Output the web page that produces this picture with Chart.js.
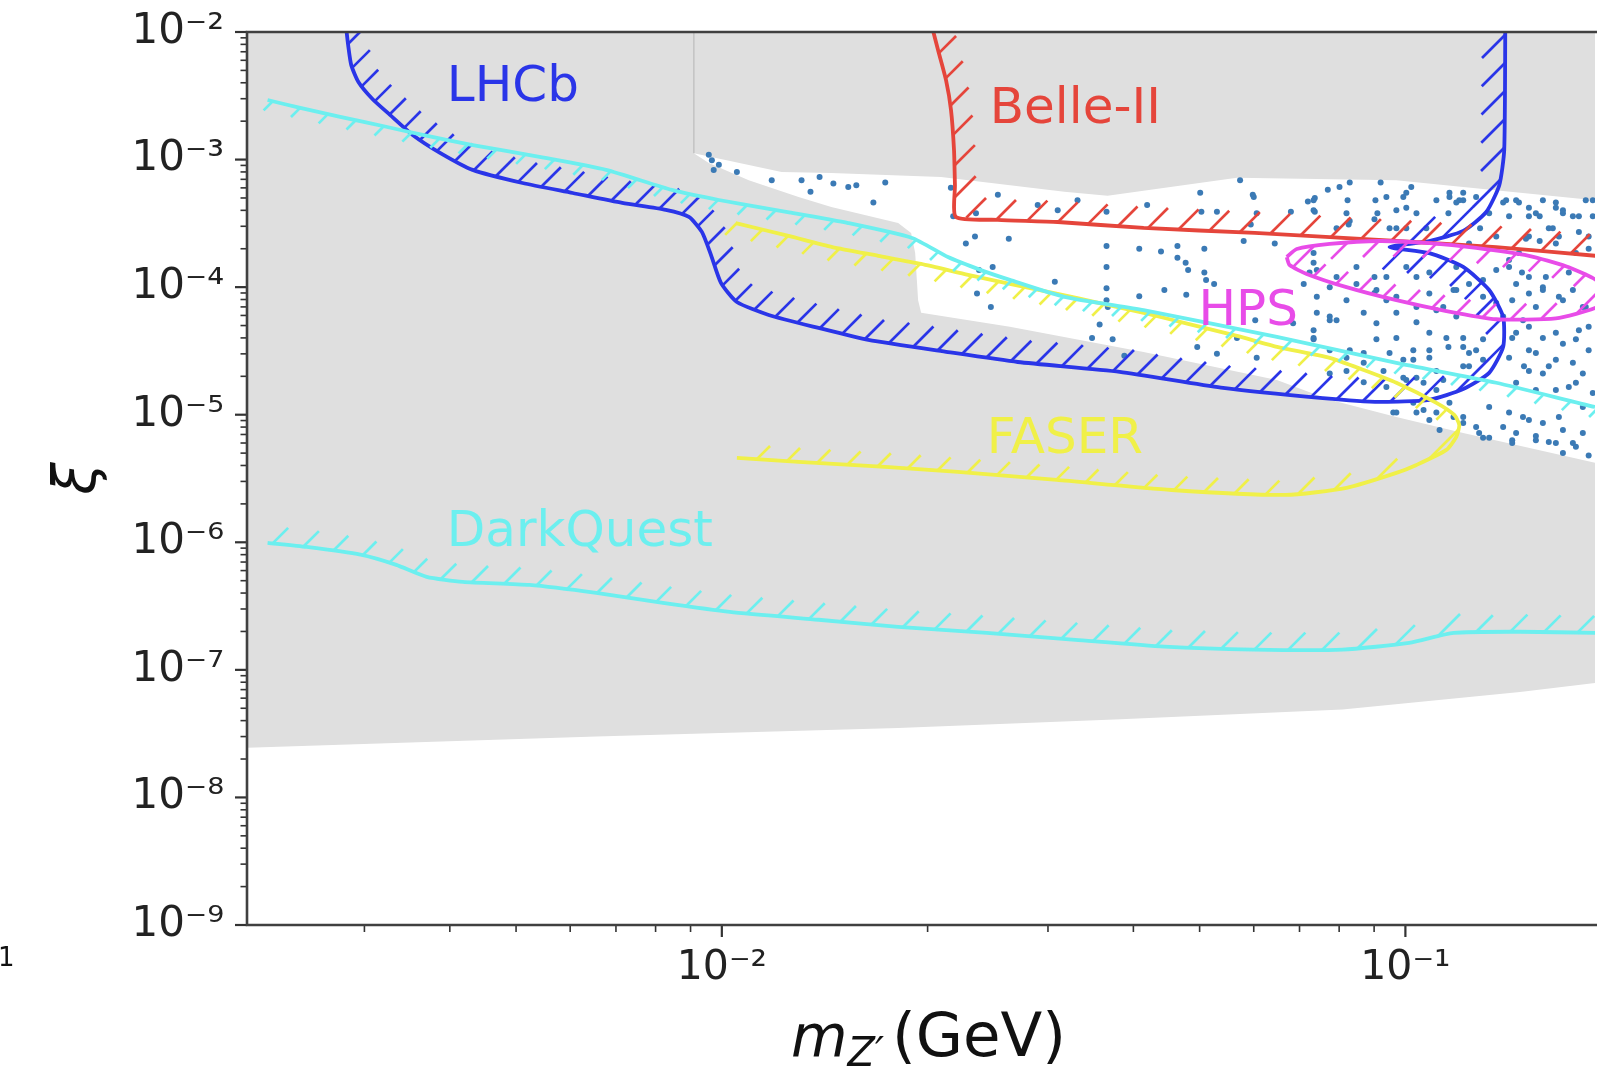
<!DOCTYPE html>
<html lang="en">
<head>
<meta charset="UTF-8">
<title>Z' reach</title>
<script src="https://cdn.jsdelivr.net/npm/chart.js"></script>
<style>
  html, body { margin: 0; padding: 0; background: #fff; }
  canvas { display: block; }
</style>
</head>
<body>
<canvas id="reach" width="1599" height="1070"></canvas>
<script>
// axis ranges (GeV, coupling)
const X_MIN = 0.00202, X_MAX = 0.1894;
const Y_MIN = 1e-9, Y_MAX = 1e-2;

const xMajorTicks = [1e-2, 1e-1];
const xMinorTicks = [3e-3, 4e-3, 5e-3, 6e-3, 7e-3, 8e-3, 9e-3, 2e-2, 3e-2, 4e-2, 5e-2, 6e-2, 7e-2, 8e-2, 9e-2];
const yMajorTicks = [1e-9, 1e-8, 1e-7, 1e-6, 1e-5, 1e-4, 1e-3, 1e-2];
const minorSteps = [2, 3, 4, 5, 6, 7, 8, 9];

// excluded region below the allowed band
const grayLowX = [1.9e-3, 9.10e-3, 9.10e-3, 9.57e-3, 1.095e-2, 1.295e-2, 1.446e-2, 1.811e-2, 1.892e-2, 1.918e-2, 1.937e-2, 1.957e-2, 2.638e-2, 4.14e-2, 6.486e-2, 7.75e-2, 9.70e-2, 0.1215, 0.1894, 0.2247, 0.2247, 0.1894, 0.1471, 8.09e-2, 3.83e-2, 1.811e-2, 6.55e-3, 2.023e-3, 1.9e-3];
const grayLowY = [1.2e-2, 1.2e-2, 1.12e-3, 9.4e-4, 6.9e-4, 5.1e-4, 4.25e-4, 3.18e-4, 2.66e-4, 1.85e-4, 7.9e-5, 6.3e-5, 4.9e-5, 3.1e-5, 1.87e-5, 1.31e-5, 9.6e-6, 7.2e-6, 4.2e-6, 3.4e-6, 9.0e-8, 7.9e-8, 6.7e-8, 4.9e-8, 4.1e-8, 3.5e-8, 3.0e-8, 2.45e-8, 2.4e-8];
// excluded region above the allowed band
const grayUpX = [9.10e-3, 0.2247, 0.2247, 0.190, 0.1215, 9.70e-2, 5.67e-2, 3.666e-2, 3.17e-2, 2.393e-2, 2.093e-2, 1.446e-2, 1.223e-2, 9.10e-3];
const grayUpY = [1.2e-2, 1.2e-2, 4.5e-4, 4.8e-4, 6.1e-4, 6.9e-4, 7.2e-4, 5.2e-4, 5.6e-4, 6.7e-4, 7.3e-4, 7.85e-4, 8.0e-4, 1.12e-3];
const edgeX = [9.10e-3, 9.10e-3];
const edgeY = [1e-2, 1.12e-3];

// projected sensitivity contours
const lhcbX = [2.82e-3, 2.84e-3, 2.87e-3, 2.94e-3, 3.08e-3, 3.27e-3, 3.53e-3, 3.87e-3, 4.32e-3, 5.11e-3, 6.05e-3, 7.15e-3, 8.28e-3, 8.95e-3, 9.35e-3, 9.64e-3, 9.97e-3, 1.052e-2, 1.171e-2, 1.385e-2, 1.638e-2, 2.142e-2, 2.71e-2, 3.82e-2, 5.37e-2, 7.57e-2, 9.17e-2, 0.1084, 0.1215, 0.1326, 0.139, 0.139, 0.1326, 0.1215, 0.1084, 0.0948, 0.1084, 0.1215, 0.1313, 0.1372, 0.1395, 0.140];
const lhcbY = [1.1e-2, 7.9e-3, 5.5e-3, 4.06e-3, 3.0e-3, 2.24e-3, 1.56e-3, 1.13e-3, 8.3e-4, 6.55e-4, 5.47e-4, 4.57e-4, 4.03e-4, 3.55e-4, 2.71e-4, 1.79e-4, 1.08e-4, 7.65e-5, 6.05e-5, 4.79e-5, 3.86e-5, 3.10e-5, 2.59e-5, 2.17e-5, 1.63e-5, 1.35e-5, 1.26e-5, 1.31e-5, 1.59e-5, 2.13e-5, 3.40e-5, 5.84e-5, 9.5e-5, 1.44e-4, 1.85e-4, 2.06e-4, 2.30e-4, 2.76e-4, 3.88e-4, 6.3e-4, 1.19e-3, 1.1e-2];

const belleX = [2.03e-2, 2.072e-2, 2.128e-2, 2.164e-2, 2.186e-2, 2.193e-2, 2.20e-2, 2.534e-2, 3.10e-2, 4.14e-2, 6.02e-2, 9.70e-2, 0.1358, 0.190, 0.225];
const belleY = [1.1e-2, 7.2e-3, 4.2e-3, 2.45e-3, 1.19e-3, 6.3e-4, 3.55e-4, 3.37e-4, 3.24e-4, 2.91e-4, 2.66e-4, 2.30e-4, 2.06e-4, 1.76e-4, 1.65e-4];

const hpsX = [6.706e-2, 6.935e-2, 7.75e-2, 9.17e-2, 0.1084, 0.1269, 0.1516, 0.1717, 0.190, 0.200, 0.190, 0.166, 0.1358, 0.1148, 9.70e-2, 8.20e-2, 7.17e-2, 6.77e-2, 6.706e-2];
const hpsY = [1.72e-4, 1.99e-4, 2.18e-4, 2.30e-4, 2.21e-4, 2.03e-4, 1.76e-4, 1.46e-4, 1.14e-4, 8.7e-5, 6.9e-5, 5.7e-5, 5.6e-5, 6.5e-5, 7.9e-5, 1.0e-4, 1.27e-4, 1.49e-4, 1.72e-4];

const faserX = [1.048e-2, 1.252e-2, 1.451e-2, 1.694e-2, 1.957e-2, 2.292e-2, 2.638e-2, 3.099e-2, 3.57e-2, 4.19e-2, 4.81e-2, 5.67e-2, 6.49e-2, 7.75e-2, 8.69e-2, 9.70e-2, 0.111, 0.1179, 0.1199, 0.1187, 0.1148, 0.1038, 9.70e-2, 8.20e-2, 6.68e-2, 4.55e-2, 3.09e-2, 2.215e-2, 1.734e-2, 1.295e-2, 1.052e-2];
const faserY = [3.18e-4, 2.52e-4, 2.06e-4, 1.76e-4, 1.52e-4, 1.25e-4, 1.06e-4, 8.85e-5, 7.5e-5, 6.2e-5, 5.15e-5, 4.15e-5, 3.40e-5, 2.79e-5, 2.24e-5, 1.78e-5, 1.24e-5, 9.96e-6, 8.3e-6, 6.7e-6, 5.3e-6, 4.04e-6, 3.50e-6, 2.67e-6, 2.35e-6, 2.57e-6, 3.08e-6, 3.56e-6, 3.90e-6, 4.27e-6, 4.59e-6];

const dqUpX = [2.165e-3, 2.417e-3, 2.765e-3, 3.24e-3, 3.65e-3, 4.32e-3, 5.41e-3, 6.77e-3, 8.45e-3, 9.90e-3, 1.248e-2, 1.531e-2, 1.898e-2, 2.142e-2, 2.393e-2, 2.638e-2, 3.17e-2, 4.14e-2, 6.486e-2, 9.70e-2, 0.1358, 0.1894, 0.2247];
const dqUpY = [2.93e-3, 2.54e-3, 2.16e-3, 1.80e-3, 1.56e-3, 1.30e-3, 1.05e-3, 8.3e-4, 5.78e-4, 4.82e-4, 3.88e-4, 3.18e-4, 2.43e-4, 1.72e-4, 1.36e-4, 1.14e-4, 8.4e-5, 6.6e-5, 4.07e-5, 2.55e-5, 1.78e-5, 1.15e-5, 9.4e-6];

const dqLowX = [2.165e-3, 2.47e-3, 2.96e-3, 3.34e-3, 3.70e-3, 4.18e-3, 5.23e-3, 6.55e-3, 8.20e-3, 1.027e-2, 1.385e-2, 1.811e-2, 2.442e-2, 3.29e-2, 4.44e-2, 6.0e-2, 8.09e-2, 0.1013, 0.1176, 0.1471, 0.1894, 0.2247];
const dqLowY = [9.9e-7, 9.2e-7, 8.0e-7, 6.65e-7, 5.36e-7, 4.90e-7, 4.63e-7, 4.01e-7, 3.35e-7, 2.85e-7, 2.47e-7, 2.17e-7, 1.95e-7, 1.72e-7, 1.52e-7, 1.44e-7, 1.44e-7, 1.63e-7, 1.95e-7, 1.99e-7, 1.95e-7, 1.95e-7];

// scanned model points
const dotX = [
  9.57e-3, 9.67e-3, 9.90e-3, 9.73e-3, 1.052e-2, 1.183e-2, 1.308e-2, 1.348e-2, 1.39e-2, 1.456e-2,
  1.531e-2, 1.573e-2, 1.734e-2, 1.666e-2, 2.163e-2, 2.18e-2, 2.354e-2, 2.275e-2, 2.346e-2, 2.629e-2,
  3.10e-2, 3.654e-2, 3.654e-2, 3.654e-2, 3.654e-2, 3.654e-2, 3.57e-2, 3.48e-2, 3.73e-2, 3.07e-2,
  2.378e-2, 2.49e-2, 2.362e-2, 2.475e-2, 4.08e-2, 4.08e-2, 4.39e-2, 4.64e-2, 4.81e-2, 5.11e-2,
  4.44e-2, 4.78e-2, 4.96e-2, 5.30e-2, 6.03e-2, 5.03e-2, 5.30e-2, 5.98e-2, 5.94e-2, 6.44e-2,
  6.80e-2, 7.37e-2, 7.37e-2, 8.01e-2, 8.26e-2, 9.04e-2, 9.10e-2, 5.73e-2, 6.0e-2, 5.01e-2,
  7.2e-2, 8.29e-2, 9.20e-2, 0.102, 9.93e-2, 8.23e-2, 7.7e-2, 0.116, 0.1199, 0.1404,
  0.1466, 0.1589, 0.166, 0.170, 0.1794, 0.1516, 0.1418, 6.06e-2, 4.64e-2, 5.08e-2,
  5.80e-2, 4.77e-2, 5.08e-2, 5.25e-2, 3.67e-2, 3.88e-2, 5.67e-2, 6.06e-2, 6.85e-2, 7.34e-2,
  7.34e-2, 7.42e-2, 7.75e-2, 7.93e-2, 7.24e-2, 7.75e-2, 7.34e-2, 7.34e-2, 8.48e-2, 9.01e-2,
  9.01e-2, 9.38e-2, 9.70e-2, 0.1038, 0.1084, 9.07e-2, 8.29e-2, 8.69e-2, 9.48e-2, 9.93e-2,
  0.1084, 0.1156, 0.1215, 0.1239, 0.1299, 7.75e-2, 8.20e-2, 8.69e-2, 9.38e-2, 0.1038,
  0.1136, 9.60e-2, 0.1038, 0.1084, 0.1122, 0.1176, 0.1215, 0.1282, 0.1326, 0.1418,
  0.1452, 0.1516, 0.1552, 0.1621, 0.170, 0.1776, 0.1818, 0.1418, 0.1491, 0.1552,
  0.1589, 0.166, 0.1734, 0.1818, 0.1452, 0.1516, 0.166, 0.1776, 0.1854, 0.1433,
  0.1516, 0.1589, 0.170, 0.1818, 0.1481, 0.1605, 0.1734, 0.1466, 0.1572, 0.1677,
  0.1776, 0.1358, 0.1418, 0.1299, 0.1187, 0.1136, 0.1084, 0.1038, 0.1187, 0.1239,
  0.1326, 0.1286, 0.111, 0.1156, 0.1073, 0.1003, 9.48e-2, 9.70e-2, 0.1038, 0.1215,
  0.1187, 0.188, 0.1854, 0.1572, 0.1643, 0.1501, 0.1299, 0.1433, 0.170, 0.1854,
  0.1027, 0.1269, 0.111, 0.1215, 0.1003, 0.1299, 2.534e-2, 2.898e-2, 3.314e-2, 4.19e-2,
  7.34e-2, 9.38e-2, 0.1003, 0.1003, 8.20e-2, 7.34e-2, 7.93e-2, 8.29e-2, 9.01e-2, 9.70e-2,
  0.116, 0.1215, 0.1269, 0.139, 0.1452, 0.1516, 0.166, 0.170, 0.1758, 0.1836,
  0.188, 0.1552, 0.1621, 0.1516, 0.166, 0.1794, 0.1854, 0.1418, 0.1358, 0.1452,
  0.1516, 0.1589, 0.1677, 0.1758, 0.1836, 0.1552, 0.1486, 0.139, 0.1433, 0.1516,
  0.1589, 0.170, 0.1794, 0.1854, 0.1758, 0.1621, 0.1516, 0.1452, 0.1552, 0.166,
  0.1776, 0.188, 0.1818, 0.1677, 0.1589, 0.1486, 0.139, 0.1326, 0.1433, 0.1552,
  0.166, 0.1758, 0.1269, 0.1215, 0.116, 0.111, 0.1063, 0.1027, 9.70e-2, 0.111,
  0.1063, 9.93e-2, 9.29e-2, 8.69e-2, 8.20e-2, 7.75e-2, 7.34e-2, 7.75e-2, 8.69e-2, 9.07e-2,
  9.70e-2, 0.1027, 0.1084, 0.1148, 0.1215, 0.1239, 0.1187, 0.111, 0.1038, 9.70e-2,
  9.07e-2, 8.48e-2, 7.93e-2, 7.42e-2, 7.10e-2, 7.42e-2, 8.20e-2, 9.38e-2, 0.1003, 0.1084,
  0.1176, 0.1239, 0.1299, 0.1358
];
const dotY = [
  1.09e-3, 9.9e-4, 9.1e-4, 8.3e-4, 8.0e-4, 6.9e-4, 6.9e-4, 5.6e-4, 7.3e-4, 6.5e-4,
  6.1e-4, 6.3e-4, 6.6e-4, 4.6e-4, 6.0e-4, 3.6e-4, 3.8e-4, 2.2e-4, 2.5e-4, 2.4e-4,
  4.0e-4, 3.9e-4, 2.1e-4, 1.44e-4, 9.8e-5, 7.9e-5, 5.1e-5, 4.0e-5, 3.9e-5, 1.1e-4,
  1.36e-4, 1.44e-4, 8.9e-5, 7.0e-5, 2.0e-4, 8.5e-5, 1.9e-4, 1.7e-4, 1.36e-4, 1.14e-4,
  9.5e-5, 8.7e-5, 3.4e-5, 3.0e-5, 5.5e-5, 3.9e-4, 3.9e-4, 5.3e-4, 3.1e-4, 2.2e-4,
  3.9e-4, 5.0e-4, 3.9e-4, 6.1e-4, 3.1e-4, 4.8e-4, 3.8e-4, 6.9e-4, 5.1e-4, 5.5e-4,
  4.7e-4, 6.6e-4, 6.6e-4, 6.1e-4, 5.1e-4, 4.8e-4, 5.8e-4, 5.1e-4, 4.8e-4, 4.8e-4,
  4.6e-4, 4.8e-4, 4.2e-4, 3.8e-4, 3.6e-4, 3.6e-4, 3.6e-4, 3.8e-4, 2.1e-4, 2.0e-4,
  2.3e-4, 1.55e-4, 1.3e-4, 1.06e-4, 7.0e-5, 2.9e-5, 4.0e-5, 2.8e-5, 5.2e-5, 4.6e-5,
  3.9e-5, 6.3e-5, 5.9e-5, 5.5e-5, 1.3e-4, 1.0e-4, 1.55e-4, 1.85e-4, 1.44e-4, 1.2e-4,
  9.0e-5, 7.9e-5, 6.3e-5, 5.3e-5, 4.4e-5, 3.9e-5, 3.2e-5, 3.05e-5, 3.05e-5, 2.7e-5,
  3.2e-5, 3.4e-5, 4.0e-5, 3.05e-5, 3.9e-5, 2.1e-5, 2.2e-5, 1.8e-5, 1.65e-5, 1.95e-5,
  1.87e-5, 1.04e-5, 1.04e-5, 9.1e-6, 7.6e-6, 9.6e-6, 8.6e-6, 7.2e-6, 1.15e-5, 1.04e-5,
  7.2e-6, 9.1e-6, 6.8e-6, 6.1e-6, 7.6e-6, 5.6e-6, 7.2e-6, 2.8e-5, 2.4e-5, 3.05e-5,
  2.1e-5, 2.7e-5, 1.65e-5, 2.1e-5, 4.4e-5, 4.9e-5, 4.4e-5, 3.9e-5, 4.9e-5, 7.9e-5,
  8.9e-5, 1.0e-4, 7.9e-5, 7.0e-5, 1.3e-4, 1.2e-4, 1.3e-4, 1.85e-4, 2.3e-4, 2.5e-4,
  1.85e-4, 2.5e-4, 1.44e-4, 1.14e-4, 9.5e-5, 7.0e-5, 8.9e-5, 1.2e-4, 1.44e-4, 2.2e-4,
  3.8e-4, 2.9e-4, 4.8e-4, 3.8e-4, 2.9e-4, 2.9e-4, 2.9e-4, 4.0e-4, 3.8e-4, 5.5e-4,
  4.6e-4, 4.8e-4, 2.5e-4, 3.6e-4, 2.9e-4, 2.4e-4, 6.6e-6, 6.3e-6, 5.0e-6, 4.8e-6,
  2.7e-5, 3.2e-5, 2.2e-5, 2.4e-5, 1.87e-5, 2.7e-5, 5.3e-4, 4.4e-4, 4.8e-4, 4.4e-4,
  4.8e-4, 5.1e-4, 5.5e-4, 4.2e-4, 3.8e-4, 4.0e-4, 2.9e-4, 3.3e-4, 3.4e-4, 2.9e-4,
  5.5e-4, 4.8e-4, 5.1e-4, 4.6e-4, 4.8e-4, 4.2e-4, 4.6e-4, 4.0e-4, 3.6e-4, 4.8e-4,
  3.6e-4, 3.8e-4, 2.9e-4, 2.5e-4, 2.2e-4, 2.7e-4, 2.0e-4, 1.63e-4, 1.36e-4, 1.06e-4,
  1.2e-4, 9.5e-5, 8.4e-5, 9.5e-5, 7.0e-5, 7.0e-5, 5.5e-5, 5.9e-5, 4.0e-5, 3.2e-5,
  4.0e-5, 3.6e-5, 4.6e-5, 3.2e-5, 2.55e-5, 2.4e-5, 2.2e-5, 1.78e-5, 1.56e-5, 1.56e-5,
  1.78e-5, 1.48e-5, 1.15e-5, 9.6e-6, 8.6e-6, 9.6e-6, 8.0e-6, 6.6e-6, 6.0e-6, 6.3e-6,
  6.0e-6, 6.0e-6, 8.0e-6, 9.6e-6, 1.24e-5, 1.04e-5, 1.09e-5, 1.24e-5, 1.04e-5, 1.56e-5,
  1.78e-5, 1.95e-5, 2.2e-5, 2.55e-5, 2.8e-5, 3.2e-5, 4.0e-5, 5.5e-5, 6.3e-5, 5.2e-5,
  4.0e-5, 3.2e-5, 2.8e-5, 4.0e-5, 3.4e-5, 2.4e-5, 5.9e-5, 6.6e-5, 7.0e-5, 8.4e-5,
  9.5e-5, 1.06e-4, 1.2e-4, 1.36e-4, 1.06e-4, 8.4e-5, 7.9e-5, 1.2e-4, 1.44e-4, 1.3e-4,
  9.5e-5, 1.06e-4, 8.4e-5, 7.5e-5
];

// experiment names, anchored at the left end of their baseline
const labelNames = ['LHCb', 'Belle-II', 'HPS', 'FASER', 'DarkQuest'];
const labelX = [3.96e-3, 2.466e-2, 4.98e-2, 2.44e-2, 3.96e-3];
const labelY = [2.9e-3, 1.93e-3, 5.06e-5, 5.0e-6, 9.4e-7];

const GRAY = '#dfdfdf';
const BLUE = '#2a35e8';
const RED = '#e5453b';
const MAGENTA = '#e84ce8';
const YELLOW = '#f0f048';
const CYAN = '#6cefef';
const DOT = '#3b7ab5';
const labelColors = [BLUE, RED, MAGENTA, YELLOW, CYAN];

const pts = (xs, ys) => xs.map((x, i) => ({ x, y: ys[i] }));
const isDecade = v => Math.abs(Math.log10(v) - Math.round(Math.log10(v))) < 1e-9;
const SUP = { '-': '\u207B', '0': '\u2070', '1': '\u00B9', '2': '\u00B2', '3': '\u00B3', '4': '\u2074', '5': '\u2075', '6': '\u2076', '7': '\u2077', '8': '\u2078', '9': '\u2079' };
const powerLabel = v => isDecade(v) ? '10' + String(Math.round(Math.log10(v))).split('').map(c => SUP[c]).join('') : '';

const region = (xs, ys) => ({
  data: pts(xs, ys), showLine: true, fill: 'shape', backgroundColor: GRAY,
  borderColor: 'rgba(0,0,0,0)', borderWidth: 1, pointRadius: 0, tension: 0, order: 10
});
const contour = (xs, ys, color, side, width, spacing) => ({
  data: pts(xs, ys), showLine: true, fill: false, borderColor: color, borderWidth: 3.8,
  pointRadius: 0, tension: 0.2, order: 1, hatch: { side, width, spacing, lineWidth: 2.7 }
});

// "/" hatching on one side of each contour, on a shared pixel lattice
const hatchPlugin = {
  id: 'hatch',
  afterDatasetDraw(chart, args) {
    const ds = chart.data.datasets[args.index];
    if (!ds.hatch) return;
    const { ctx, chartArea: ca } = chart;
    const pts = args.meta.data;
    const { side, width, spacing } = ds.hatch;
    const tx = Math.SQRT1_2, ty = -Math.SQRT1_2;
    ctx.save();
    ctx.beginPath();
    ctx.rect(ca.left, ca.top, ca.right - ca.left, ca.bottom - ca.top);
    ctx.clip();
    ctx.strokeStyle = ds.borderColor;
    ctx.lineWidth = ds.hatch.lineWidth;
    ctx.beginPath();
    for (let i = 1; i < pts.length; i++) {
      const a = pts[i - 1], b = pts[i];
      const dx = b.x - a.x, dy = b.y - a.y;
      const len = Math.hypot(dx, dy);
      const ca0 = a.x + a.y, cb0 = b.x + b.y;
      if (!len || ca0 === cb0) continue;
      const nx = side * dy / len, ny = -side * dx / len;
      const dot = tx * nx + ty * ny;
      const sgn = dot >= 0 ? 1 : -1;
      const L = width / Math.max(Math.abs(dot), 0.5);
      const k0 = Math.ceil(Math.min(ca0, cb0) / spacing), k1 = Math.floor(Math.max(ca0, cb0) / spacing);
      for (let k = k0; k <= k1; k++) {
        const f = (k * spacing - ca0) / (cb0 - ca0);
        if (f < 0 || f >= 1) continue;
        const px = a.x + f * dx, py = a.y + f * dy;
        ctx.moveTo(px, py);
        ctx.lineTo(px + sgn * tx * L, py + sgn * ty * L);
      }
    }
    ctx.stroke();
    ctx.restore();
  }
};

const decorPlugin = {
  id: 'decor',
  afterDatasetsDraw(chart) {
    const { ctx, scales: { x, y } } = chart;
    ctx.save();
    ctx.font = '50px "DejaVu Sans"';
    ctx.textBaseline = 'alphabetic';
    ctx.textAlign = 'left';
    labelNames.forEach((name, i) => {
      ctx.fillStyle = labelColors[i];
      ctx.fillText(name, x.getPixelForValue(labelX[i]), y.getPixelForValue(labelY[i]));
    });
    ctx.restore();
  },
  afterDraw(chart) {
    const { ctx, chartArea: ca, scales: { x, y } } = chart;
    ctx.save();
    // tick marks, pointing out of the frame
    ctx.strokeStyle = '#333';
    y.ticks.forEach(t => {
      const major = isDecade(t.value);
      const py = y.getPixelForValue(t.value);
      ctx.lineWidth = major ? 2.2 : 1.6;
      ctx.beginPath();
      ctx.moveTo(ca.left, py);
      ctx.lineTo(ca.left - (major ? 12 : 6.5), py);
      ctx.stroke();
    });
    x.ticks.forEach(t => {
      const major = isDecade(t.value);
      const px = x.getPixelForValue(t.value);
      ctx.lineWidth = major ? 2.2 : 1.6;
      ctx.beginPath();
      ctx.moveTo(px, ca.bottom);
      ctx.lineTo(px, ca.bottom + (major ? 12 : 7));
      ctx.stroke();
    });
    // frame
    ctx.strokeStyle = '#404040';
    ctx.lineWidth = 2.6;
    ctx.beginPath();
    ctx.moveTo(ca.right + 2, ca.top);
    ctx.lineTo(ca.left, ca.top);
    ctx.lineTo(ca.left, ca.bottom);
    ctx.lineTo(ca.right + 2, ca.bottom);
    ctx.stroke();

    // x axis title: m_{Z'} (GeV)
    ctx.fillStyle = '#111';
    ctx.textBaseline = 'alphabetic';
    ctx.textAlign = 'left';
    const base = 1056;
    let cx = 791;
    ctx.font = 'italic 58px "DejaVu Sans"';
    ctx.fillText('m', cx, base);
    cx += ctx.measureText('m').width;
    ctx.font = 'italic 40px "DejaVu Sans"';
    ctx.fillText('Z\u2032', cx, base + 10);
    cx += ctx.measureText('Z\u2032').width + 8;
    ctx.font = '61px "DejaVu Sans"';
    ctx.fillText('(GeV)', cx, base);

    // clipped exponent of the neighbouring panel
    ctx.font = '26px "DejaVu Sans"';
    ctx.fillText('1', -2, 966);
    ctx.restore();
  }
};

new Chart(document.getElementById('reach'), {
  type: 'scatter',
  data: {
    datasets: [
      region(grayLowX, grayLowY),
      region(grayUpX, grayUpY),
      { data: pts(edgeX, edgeY), showLine: true, borderColor: '#c2c2c2', borderWidth: 1.5, pointRadius: 0, order: 9 },
      { data: pts(dotX, dotY), pointRadius: 3, pointBackgroundColor: DOT, pointBorderWidth: 0, order: 3 },
      contour(dqLowX, dqLowY, CYAN, 1, 17, 34),
      contour(dqUpX, dqUpY, CYAN, -1, 11, 34),
      contour(faserX, faserY, YELLOW, -1, 14, 32),
      contour(hpsX, hpsY, MAGENTA, -1, 15, 30),
      contour(belleX, belleY, RED, 1, 21, 32),
      contour(lhcbX, lhcbY, BLUE, 1, 23, 28)
    ]
  },
  options: {
    responsive: false,
    animation: false,
    layout: { padding: { top: 32, right: 0, bottom: 0, left: 0 } },
    plugins: { legend: { display: false }, tooltip: { enabled: false } },
    scales: {
      x: {
        type: 'logarithmic',
        min: X_MIN,
        max: X_MAX,
        afterBuildTicks: s => { s.ticks = [...xMinorTicks, ...xMajorTicks].sort((a, b) => a - b).map(v => ({ value: v })); },
        afterFit: s => { s.height = 145; s.paddingLeft = 0; s.paddingRight = 0; },
        grid: { drawOnChartArea: false, drawTicks: false },
        border: { display: false },
        ticks: {
          autoSkip: false, maxRotation: 0, padding: 19, color: '#222',
          font: { family: 'DejaVu Sans', size: 41 },
          callback: v => powerLabel(v)
        }
      },
      y: {
        type: 'logarithmic',
        min: Y_MIN,
        max: Y_MAX,
        afterBuildTicks: s => {
          const minor = yMajorTicks.slice(0, -1).flatMap(d => minorSteps.map(m => m * d));
          s.ticks = [...minor, ...yMajorTicks].sort((a, b) => a - b).map(v => ({ value: v }));
        },
        afterFit: s => { s.width = 247; s.paddingTop = 0; s.paddingBottom = 0; },
        grid: { drawOnChartArea: false, drawTicks: false },
        border: { display: false },
        ticks: {
          autoSkip: false, padding: 23, color: '#222',
          font: { family: 'DejaVu Sans', size: 42 },
          callback: v => powerLabel(v)
        },
        title: {
          display: true, text: '\u03BE', color: '#111',
          font: { family: 'DejaVu Sans', size: 58, style: 'italic' },
          padding: { top: 45, bottom: 0 }
        }
      }
    }
  },
  plugins: [hatchPlugin, decorPlugin]
});
</script>
</body>
</html>
